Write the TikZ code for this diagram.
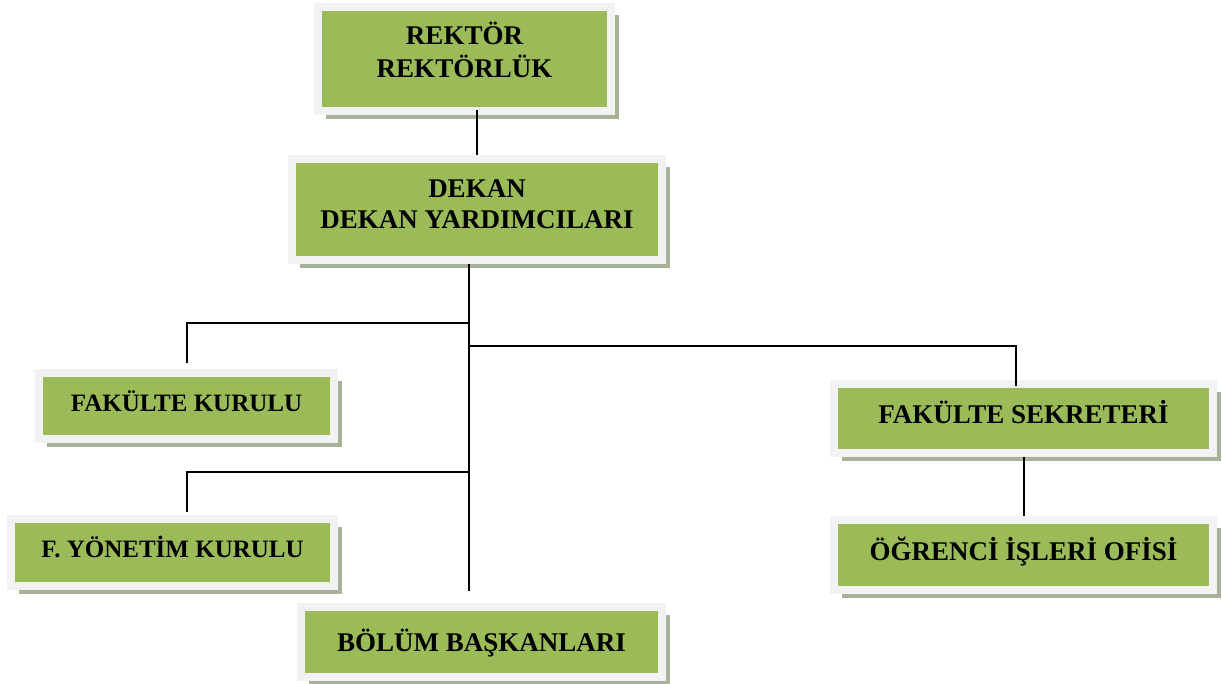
\documentclass[tikz,border=0pt]{standalone}
\usepackage{fontspec}
\setmainfont{Liberation Serif}
\usetikzlibrary{shadows}
\definecolor{boxgreen}{HTML}{9BBB59}
\definecolor{framegray}{HTML}{F2F2F2}
\definecolor{shadowcol}{HTML}{A8B298}
\begin{document}
\begin{tikzpicture}[x=1pt,y=-1pt,
  orgbox/.style={fill=boxgreen, draw=framegray, line width=8pt,
    font=\bfseries\fontsize{27}{31}\selectfont, align=center, inner sep=0pt,
    text height=18pt, text depth=8pt,
    general shadow={fill=shadowcol, shadow xshift=8pt, shadow yshift=-8pt}},
  smallfont/.style={font=\bfseries\fontsize{25}{29}\selectfont},
  conn/.style={draw=black, line width=2pt}]
\useasboundingbox (0,0) rectangle (1222,684);

\node[orgbox, minimum width=293pt, minimum height=104pt, text height=50pt, text depth=13pt] (rektor) at (464.5,59) {REKTÖR\\[1.5pt]REKTÖRLÜK};
\node[orgbox, minimum width=370pt, minimum height=101pt, text height=52pt, text depth=13pt] (dekan) at (477,209.5) {DEKAN\\DEKAN YARDIMCILARI};
\node[orgbox, smallfont, minimum width=295pt, minimum height=66pt] (fkurul) at (186.5,406) {FAKÜLTE KURULU};
\node[orgbox, smallfont, minimum width=323pt, minimum height=67pt] (fyon) at (172.5,552.5) {F. YÖNETİM KURULU};
\node[orgbox, minimum width=361pt, minimum height=70pt, text depth=0pt] (bolum) at (481.5,642) {BÖLÜM BAŞKANLARI};
\node[orgbox, minimum width=379pt, minimum height=69pt] (sekr) at (1023.5,418.5) {FAKÜLTE SEKRETERİ};
\node[orgbox, minimum width=379pt, minimum height=70pt] (ogr) at (1023.5,555) {ÖĞRENCİ İŞLERİ OFİSİ};

\coordinate (rk) at ([yshift=5pt]rektor.south);
\draw[conn] (dekan.north) -- (dekan.north |- rk);

\coordinate (tr) at ([xshift=-8pt]dekan.south);
\coordinate (trunkend) at (469,591);
\draw[conn] (tr) -- (trunkend);

\coordinate (b1) at (469,323);
\coordinate (fk) at ([yshift=6pt]fkurul.north);
\draw[conn] (b1) -| (fk);

\coordinate (b2) at (469,346);
\coordinate (sk) at ([xshift=-7.5pt,yshift=-6pt]sekr.north);
\draw[conn] (b2) -| (sk);

\coordinate (b3) at (469,472);
\coordinate (fy) at ([xshift=14.5pt,yshift=3pt]fyon.north);
\draw[conn] (b3) -| (fy);

\draw[conn] (sekr.south) -- (ogr.north);
\end{tikzpicture}
\end{document}
